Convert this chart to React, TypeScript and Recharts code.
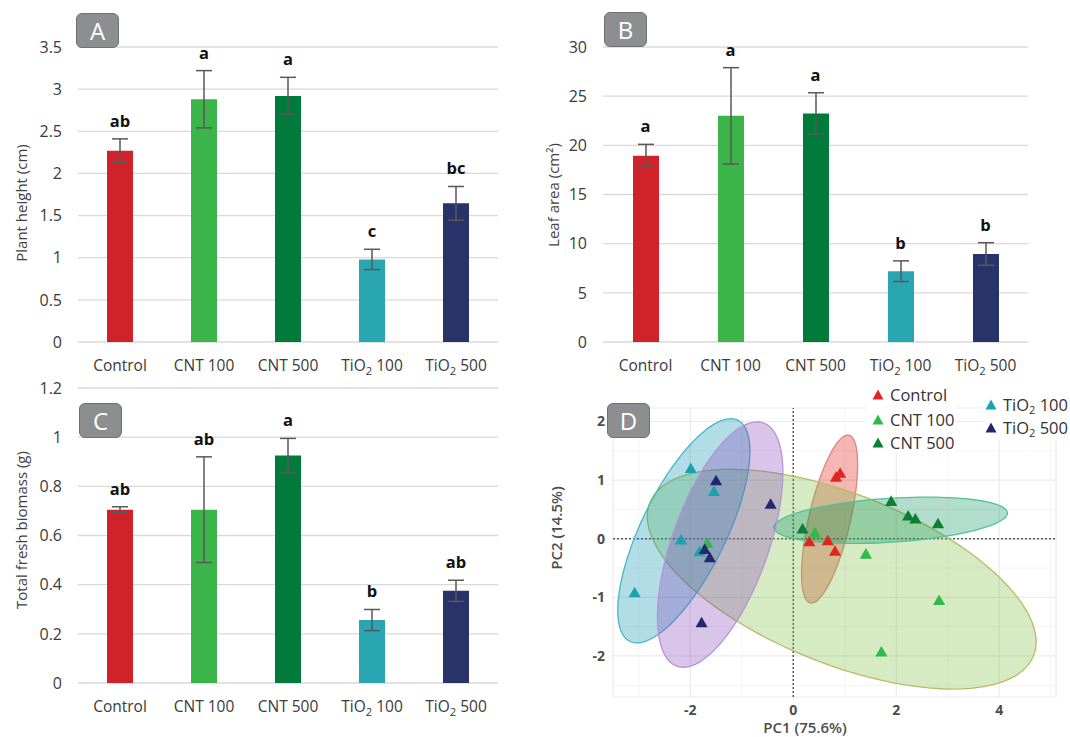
import React from 'react';
import {
  ComposedChart, Bar, Line, Cell, ErrorBar, LabelList, XAxis, YAxis, CartesianGrid,
  ScatterChart, Scatter, ZAxis, ReferenceLine,
} from 'recharts';

// ---- bar panels (A, B, C) ----
const treatments = ['Control', 'CNT 100', 'CNT 500', 'TiO2 100', 'TiO2 500'];
const barColors = ['#d12229', '#3bb54a', '#007b3b', '#2aa6b3', '#28336a'];

const heightMean = [2.27, 2.88, 2.92, 0.98, 1.645];
const heightErr = [0.14, 0.34, 0.22, 0.12, 0.2];
const heightLetters = ['ab', 'a', 'a', 'c', 'bc'];
const heightTicks = [0, 0.5, 1, 1.5, 2, 2.5, 3, 3.5];

const leafMean = [18.95, 23.0, 23.25, 7.2, 8.95];
const leafErr = [1.15, 4.9, 2.1, 1.05, 1.15];
const leafLetters = ['a', 'a', 'a', 'b', 'b'];
const leafTicks = [0, 5, 10, 15, 20, 25, 30];

const biomassMean = [0.705, 0.705, 0.925, 0.256, 0.375];
const biomassErr = [0.012, 0.215, 0.07, 0.043, 0.043];
const biomassLetters = ['ab', 'ab', 'a', 'b', 'ab'];
const biomassTicks = [0, 0.2, 0.4, 0.6, 0.8, 1, 1.2];

// ---- PCA panel (D) ----
const pcaControl = [{ x: 0.83, y: 1.03 }, { x: 0.91, y: 1.1 }, { x: 0.31, y: -0.07 }, { x: 0.67, y: -0.05 }, { x: 0.81, y: -0.23 }];
const pcaCnt100 = [{ x: -1.67, y: -0.1 }, { x: 0.42, y: 0.08 }, { x: 1.41, y: -0.28 }, { x: 2.83, y: -1.07 }, { x: 1.71, y: -1.95 }];
const pcaCnt500 = [{ x: 0.18, y: 0.15 }, { x: 1.9, y: 0.62 }, { x: 2.23, y: 0.37 }, { x: 2.37, y: 0.32 }, { x: 2.81, y: 0.24 }];
const pcaTio100 = [{ x: -1.99, y: 1.18 }, { x: -1.54, y: 0.79 }, { x: -2.18, y: -0.04 }, { x: -1.82, y: -0.24 }, { x: -3.08, y: -0.94 }];
const pcaTio500 = [{ x: -1.5, y: 0.97 }, { x: -0.44, y: 0.57 }, { x: -1.72, y: -0.2 }, { x: -1.62, y: -0.34 }, { x: -1.78, y: -1.45 }];
const pcaGroups = [pcaControl, pcaCnt100, pcaCnt500, pcaTio100, pcaTio500];
const pointColors = ['#e0261f', '#31b94a', '#0d7f35', '#1ba2b1', '#22276e'];

// confidence ellipses: centre, semi-axes and rotation in PC units
const ellipseParams = [
  { cx: 0.705, cy: 0.335, a: 1.48, b: 0.4, angle: 75 },
  { cx: 0.94, cy: -0.69, a: 3.95, b: 1.47, angle: -18.5 },
  { cx: 1.89, cy: 0.315, a: 2.27, b: 0.375, angle: 3.2 },
  { cx: -2.125, cy: 0.135, a: 2.16, b: 0.8, angle: 60 },
  { cx: -1.42, cy: -0.1, a: 2.24, b: 0.92, angle: 67 },
];
const ellipseFill = ['#da1205', '#78be3c', '#008a52', '#008eac', '#803eb9'];
const ellipseStroke = ['#d9877c', '#b9bb62', '#4cc39c', '#45b8c6', '#b893d4'];

const pcaXTicks = [-2, 0, 2, 4];
const pcaYTicks = [-2, -1, 0, 1, 2];
const pcaMinorX = [-3, -1, 1, 3, 5];
const pcaMinorY = [-2.5, -1.5, -0.5, 0.5, 1.5];
const legendNames = ['Control', 'CNT 100', 'CNT 500', 'TiO2 100', 'TiO2 500'];

const FONT = '"Open Sans", sans-serif';

function ellipseOutline(e: { cx: number; cy: number; a: number; b: number; angle: number }) {
  const t = (e.angle * Math.PI) / 180;
  const pts = [];
  for (let i = 0; i < 96; i++) {
    const u = (i / 96) * 2 * Math.PI;
    const px = e.a * Math.cos(u);
    const py = e.b * Math.sin(u);
    pts.push({ x: e.cx + px * Math.cos(t) - py * Math.sin(t), y: e.cy + px * Math.sin(t) + py * Math.cos(t) });
  }
  return pts;
}

const TiText = ({ label }: { label: string }) => {
  const m = /^TiO2(.*)$/.exec(label);
  if (!m) return <>{label}</>;
  return (
    <>
      <tspan>TiO</tspan>
      <tspan fontSize="0.72em" dy={4}>2</tspan>
      <tspan dy={-4}>{m[1]}</tspan>
    </>
  );
};

const CatTick = (props: any) => {
  const { x, y, payload } = props;
  return (
    <text x={x} y={y} dy={29} textAnchor="middle" fill="#3a3a3a" fontSize={15.5}>
      <TiText label={payload.value} />
    </text>
  );
};

function BarPanel(props: {
  means: number[]; errs: number[]; letters: string[]; ticks: number[];
  height: number; margin: { top: number; right: number; bottom: number; left: number };
}) {
  const { means, errs, letters, ticks, height, margin } = props;
  const data = treatments.map((name, i) => ({
    name, value: means[i], err: errs[i], letter: letters[i], top: means[i] + errs[i],
  }));
  return (
    <ComposedChart width={520} height={height} data={data} margin={margin}>
      <CartesianGrid vertical={false} stroke="#d9d9d9" strokeWidth={1.3} />
      <XAxis dataKey="name" axisLine={false} tickLine={false} tickSize={0} tickMargin={0}
        interval={0} height={30} tick={<CatTick />} />
      <YAxis domain={[ticks[0], ticks[ticks.length - 1]]} ticks={ticks} axisLine={false} tickLine={false}
        tickSize={0} tickMargin={16} width={50} interval={0} tick={{ fill: '#3a3a3a', fontSize: 16 }} />
      <Bar dataKey="value" barSize={26} isAnimationActive={false}>
        {data.map((d, i) => <Cell key={d.name} fill={barColors[i]} />)}
        <ErrorBar dataKey="err" width={8} stroke="#595959" strokeWidth={1.5} />
      </Bar>
      <Line dataKey="top" stroke="none" dot={false} activeDot={false} isAnimationActive={false}>
        <LabelList dataKey="letter" position="top" offset={12} fill="#111" fontSize={16.5} fontWeight={700} />
      </Line>
    </ComposedChart>
  );
}

const Tag = ({ letter, left, top }: { letter: string; left: number; top: number }) => (
  <div style={{
    position: 'absolute', left, top, width: 43, height: 35, boxSizing: 'border-box',
    background: '#8c8e90', border: '1.5px solid #6f7173', borderRadius: 6, color: '#fff',
    fontSize: 24, display: 'flex', alignItems: 'center', justifyContent: 'center', lineHeight: 1,
  }}>{letter}</div>
);

const VLabel = ({ text, cx, cy, style }: { text: string; cx: number; cy: number; style?: React.CSSProperties }) => (
  <div style={{
    position: 'absolute', left: cx, top: cy, transform: 'translate(-50%, -50%) rotate(-90deg)',
    whiteSpace: 'nowrap', fontSize: 15, color: '#404040', ...style,
  }}>{text}</div>
);

const LegendRow = ({ i, left, top }: { i: number; left: number; top: number }) => (
  <div style={{ position: 'absolute', left, top, display: 'flex', alignItems: 'center', fontSize: 16.5, color: '#333', whiteSpace: 'nowrap' }}>
    <svg width={12} height={11} style={{ marginRight: 6 }}>
      <polygon points="6,0.5 11.5,10.5 0.5,10.5" fill={pointColors[i]} />
    </svg>
    <span>
      {legendNames[i].startsWith('TiO2') ? (
        <>TiO<sub style={{ fontSize: 11, verticalAlign: -3, lineHeight: 0 }}>2</sub>{legendNames[i].slice(4)}</>
      ) : legendNames[i]}
    </span>
  </div>
);

export default function App() {
  return (
    <div style={{ position: 'absolute', left: 0, top: 0, width: 1070, height: 737, background: '#fff', fontFamily: FONT, overflow: 'hidden' }}>
      <div style={{ position: 'absolute', left: 0, top: 0 }}>
        <BarPanel means={heightMean} errs={heightErr} letters={heightLetters} ticks={heightTicks}
          height={380} margin={{ top: 47, right: 22, bottom: 8, left: 28 }} />
      </div>
      <div style={{ position: 'absolute', left: 530, top: 0 }}>
        <BarPanel means={leafMean} errs={leafErr} letters={leafLetters} ticks={leafTicks}
          height={380} margin={{ top: 47, right: 22, bottom: 8, left: 23 }} />
      </div>
      <div style={{ position: 'absolute', left: 0, top: 370 }}>
        <BarPanel means={biomassMean} errs={biomassErr} letters={biomassLetters} ticks={biomassTicks}
          height={367} margin={{ top: 18, right: 22, bottom: 24, left: 28 }} />
      </div>

      <div style={{ position: 'absolute', left: 540, top: 370 }}>
        <ScatterChart width={530} height={367} margin={{ top: 38, right: 14, bottom: 15, left: 43 }}>
          <CartesianGrid stroke="#ebebeb" strokeWidth={1.2} />
          {pcaMinorX.map((v) => <ReferenceLine key={'mx' + v} x={v} stroke="#f4f4f4" strokeWidth={1} />)}
          {pcaMinorY.map((v) => <ReferenceLine key={'my' + v} y={v} stroke="#f4f4f4" strokeWidth={1} />)}
          <XAxis type="number" dataKey="x" domain={[-3.5, 5.1]} ticks={pcaXTicks} allowDataOverflow
            axisLine={false} tickLine={false} tickSize={0} tickMargin={8} height={25}
            tick={{ fill: '#4d4d4d', fontSize: 14, fontWeight: 700 }} />
          <YAxis type="number" dataKey="y" domain={[-2.7, 2.23]} ticks={pcaYTicks} allowDataOverflow
            axisLine={false} tickLine={false} tickSize={0} tickMargin={8} width={30}
            tick={{ fill: '#4d4d4d', fontSize: 14, fontWeight: 700 }} />
          <ZAxis range={[48, 48]} />
          {ellipseParams.map((e, i) => (
            <Scatter key={'el' + i} data={ellipseOutline(e)} shape={() => <g />} isAnimationActive={false}
              lineType="joint" lineJointType="linearClosed"
              line={{ fill: ellipseFill[i], fillOpacity: 0.3, stroke: ellipseStroke[i], strokeWidth: 1.3 }} />
          ))}
          <ReferenceLine x={0} stroke="#5a5a5a" strokeDasharray="2 2" strokeWidth={1.5} />
          <ReferenceLine y={0} stroke="#5a5a5a" strokeDasharray="2 2" strokeWidth={1.5} />
          {pcaGroups.map((g, i) => (
            <Scatter key={'g' + i} data={g} fill={pointColors[i]} shape="triangle" isAnimationActive={false} />
          ))}
        </ScatterChart>
      </div>

      <VLabel text="Plant height (cm)" cx={21} cy={203} />
      <VLabel text="Leaf area (cm²)" cx={553} cy={195} />
      <VLabel text="Total fresh biomass (g)" cx={21} cy={530} />
      <VLabel text="PC2 (14.5%)" cx={556} cy={528} style={{ fontSize: 15, fontWeight: 600, color: '#4d4d4d' }} />
      <div style={{ position: 'absolute', left: 805, top: 727, transform: 'translate(-50%, -50%)', fontSize: 15, lineHeight: '16px', fontWeight: 600, color: '#4d4d4d', whiteSpace: 'nowrap' }}>
        PC1 (75.6%)
      </div>

      <div style={{ position: 'absolute', left: 866, top: 383, width: 90, height: 71, background: '#fff' }} />
      <div style={{ position: 'absolute', left: 983, top: 393, width: 87, height: 47, background: '#fff' }} />
      <LegendRow i={0} left={872} top={383} />
      <LegendRow i={1} left={872} top={408} />
      <LegendRow i={2} left={872} top={431} />
      <LegendRow i={3} left={985} top={393} />
      <LegendRow i={4} left={985} top={416} />

      <Tag letter="A" left={76} top={13} />
      <Tag letter="B" left={604} top={12} />
      <Tag letter="C" left={79} top={403} />
      <Tag letter="D" left={607} top={403} />
    </div>
  );
}
